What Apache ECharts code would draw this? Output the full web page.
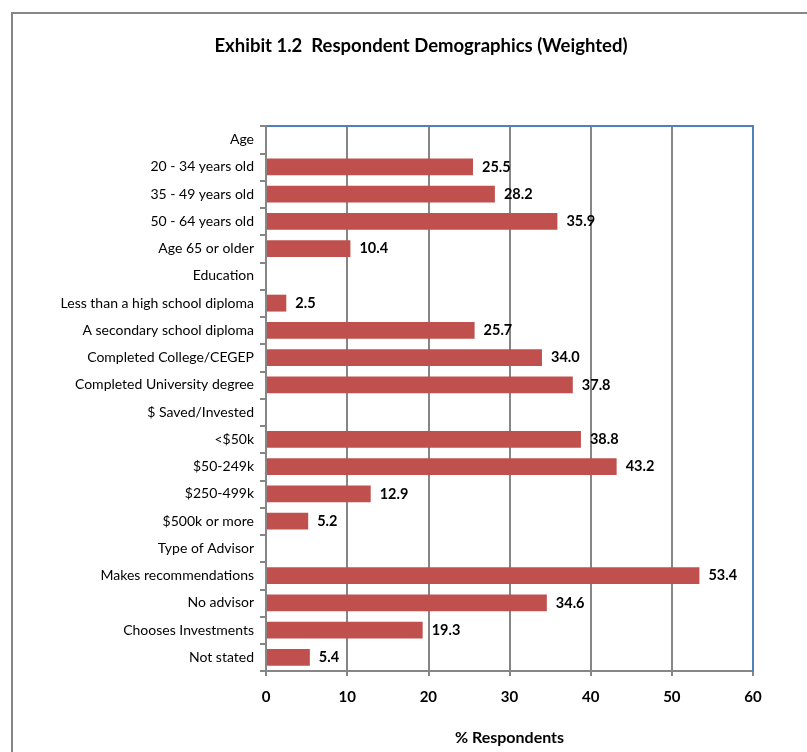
<!DOCTYPE html>
<html>
<head>
<meta charset="utf-8">
<script src="https://cdn.jsdelivr.net/npm/echarts@6/dist/echarts.min.js"></script>
<style>
  html, body { margin: 0; padding: 0; background: #fff; }
  #chart { width: 807px; height: 752px; }
</style>
</head>
<body>
<div id="chart"></div>
<script>
// Row labels, top to bottom; section headers carry no value
const categories = [
  'Age', '20 - 34 years old', '35 - 49 years old', '50 - 64 years old', 'Age 65 or older',
  'Education', 'Less than a high school diploma', 'A secondary school diploma',
  'Completed College/CEGEP', 'Completed University degree',
  '$ Saved/Invested', '<$50k', '$50-249k', '$250-499k', '$500k or more',
  'Type of Advisor', 'Makes recommendations', 'No advisor', 'Chooses Investments', 'Not stated'
];
// % of respondents per row
const values = [
  null, 25.5, 28.2, 35.9, 10.4,
  null, 2.5, 25.7, 34.0, 37.8,
  null, 38.8, 43.2, 12.9, 5.2,
  null, 53.4, 34.6, 19.3, 5.4
];
const xTicks = [0, 10, 20, 30, 40, 50, 60];

const FONT = 'Lato, "Noto Sans", sans-serif';
const GRAY = '#868686';
const BLUE = '#4F81BD';

const chart = echarts.init(document.getElementById('chart'));
chart.setOption({
  animation: false,
  textStyle: { fontFamily: FONT },
  title: {
    text: 'Exhibit 1.2  Respondent Demographics (Weighted)',
    left: 416, top: 32, textAlign: 'center',
    textStyle: { fontFamily: FONT, fontSize: 18.5, fontWeight: 'bold', color: '#000' }
  },
  graphic: [{
    type: 'rect', silent: true,
    shape: { x: 12, y: 13, width: 1000, height: 1000 },
    style: { fill: 'none', stroke: GRAY, lineWidth: 2 }
  }],
  grid: { left: 266, right: 54, top: 126, bottom: 81 },
  xAxis: [{
    type: 'value', min: xTicks[0], max: xTicks[xTicks.length - 1], interval: 10,
    name: '% Respondents', nameLocation: 'middle', nameGap: 59,
    nameTextStyle: { fontFamily: FONT, fontSize: 16, fontWeight: 'bold', color: '#000' },
    axisLine: { show: true, lineStyle: { color: GRAY, width: 2 } },
    axisTick: { show: true, length: 5, lineStyle: { color: GRAY, width: 2 } },
    axisLabel: { margin: 19, fontFamily: FONT, fontSize: 15, fontWeight: 'bold', color: '#000' },
    splitLine: { show: true, lineStyle: { color: GRAY, width: 2 } }
  }, {
    type: 'value', position: 'top', min: 0, max: 60, interval: 10, z: 5,
    axisLine: { show: true, onZero: false, lineStyle: { color: BLUE, width: 2 } },
    axisTick: { show: false }, axisLabel: { show: false }, splitLine: { show: false }
  }],
  yAxis: [{
    type: 'category', data: categories, inverse: true, z: 6,
    axisLine: { show: true, lineStyle: { color: GRAY, width: 2 } },
    axisTick: { show: true, length: 6, lineStyle: { color: GRAY, width: 2 } },
    axisLabel: { margin: 12, fontFamily: FONT, fontSize: 14, color: '#000' },
    splitLine: { show: false }
  }, {
    type: 'category', data: categories, inverse: true, position: 'right', z: 5,
    axisLine: { show: true, onZero: false, lineStyle: { color: BLUE, width: 2 } },
    axisTick: { show: false }, axisLabel: { show: false }, splitLine: { show: false }
  }],
  series: [{
    type: 'bar',
    data: values,
    barCategoryGap: '38%',
    itemStyle: { color: '#C0504D' },
    label: {
      show: true, position: 'right', distance: 9,
      fontFamily: FONT, fontSize: 14.5, fontWeight: 'bold', color: '#000',
      formatter: p => (p.value == null ? '' : Number(p.value).toFixed(1))
    }
  }]
});
</script>
</body>
</html>
